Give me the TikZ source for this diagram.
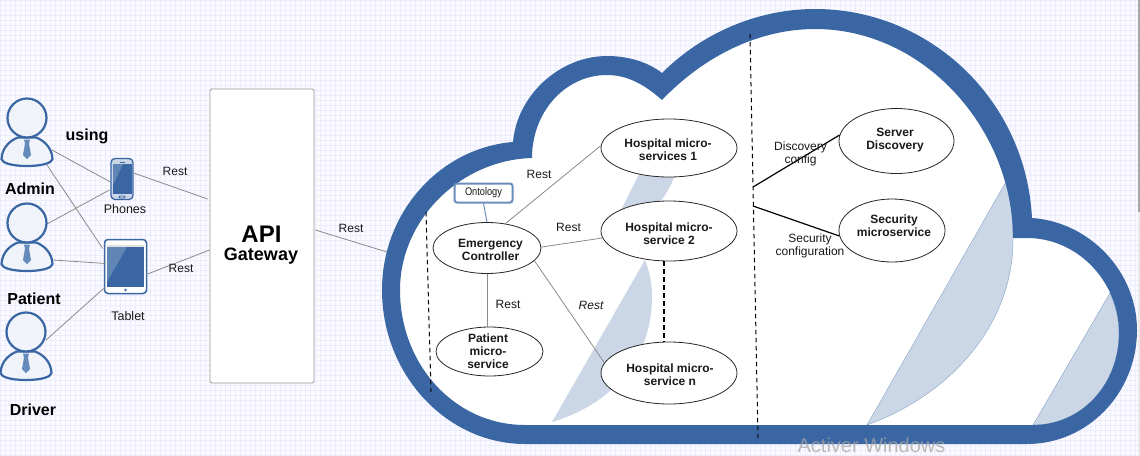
\documentclass[tikz,border=0pt]{standalone}
\usepackage{fontspec}
\usepackage{graphicx}
\setmainfont{Liberation Sans}
\usetikzlibrary{shapes.geometric,calc}
\definecolor{cloudblue}{HTML}{3A67A3}
\definecolor{segblue}{HTML}{CBD7E6}
\definecolor{linegray}{HTML}{8A8A8A}
\definecolor{skin}{HTML}{F0F4FA}
\definecolor{tie}{HTML}{648BBA}
\definecolor{sheen}{HTML}{5F86B5}
\definecolor{gridc}{HTML}{ECECFF}
\definecolor{bgc}{HTML}{FBFBFF}
\newcommand{\fsz}[1]{\fontsize{#1}{13}\selectfont}
\newcommand{\outerpath}{(1027,444) .. controls (1088,444) and (1137,393) .. (1137,330)
  .. controls (1137,272) and (1090,222) .. (1032,218)
  .. controls (1026,100) and (930,9) .. (815,9)
  .. controls (755,9) and (700,35) .. (662,73)
  .. controls (648,62) and (628,56) .. (607,56)
  .. controls (560,56) and (517,95) .. (513,142)
  .. controls (440,148) and (382,212) .. (382,290)
  .. controls (382,375) and (447,444) .. (525,444) -- cycle}
\newcommand{\innerpath}{(1033,425) .. controls (1082,425) and (1119,384) .. (1119,333)
  .. controls (1119,282) and (1078,238) .. (1027,238) -- (1013,238)
  .. controls (1013,130) and (925,29) .. (815,29)
  .. controls (760,29) and (705,55) .. (662,100)
  .. controls (645,85) and (628,75) .. (607,75)
  .. controls (565,75) and (532,112) .. (532,158)
  .. controls (460,160) and (400,220) .. (400,290)
  .. controls (400,365) and (455,425) .. (525,425) -- cycle}
\tikzset{
  x=1pt,y=-1pt,
  conn/.style={draw=linegray,line width=0.8pt},
  svc/.style={ellipse,draw=black!85,fill=white,line width=0.8pt,inner sep=0pt},
  svctext/.style={inner sep=0pt,align=center,font=\fsz{12}\bfseries,text=black!90},
  plain/.style={inner sep=0pt,align=center,font=\fsz{12},text=black!90},
  who/.style={inner sep=0pt,font=\fsz{16}\bfseries,text=black},
  dash line/.style={draw=black,line width=1pt,dash pattern=on 4.5pt off 3.5pt},
  link/.style={draw=black,line width=1.2pt},
  pers/.style={inner sep=0pt,minimum size=1pt},
  person/.pic={
    \path[draw=cloudblue,fill=skin,line width=2.2pt]
      (-25.5,41) .. controls (-25,29) and (-16,22) .. (-9,19.5)
      -- (9,19.5) .. controls (16,22) and (25,29) .. (25.5,41)
      .. controls (25,45) and (15,48) .. (0,48)
      .. controls (-15,48) and (-25,45) .. (-25.5,41) -- cycle;
    \path[draw=cloudblue,fill=skin,line width=2.2pt] (0,0) circle[radius=19.5];
    \path[fill=tie] (-3,21.5) -- (3,21.5) -- (2,25.5) -- (4,37) -- (0,41) -- (-4,37) -- (-2,25.5) -- cycle;
  }
}
\begin{document}
\begin{tikzpicture}
\useasboundingbox (0,0) rectangle (1140,455);
% sheet
\fill[bgc] (0,0) rectangle (1140,455);
\draw[gridc,line width=0.8pt,step=5pt] (0,0) grid (1140,455);
\fill[black!8] (1138,212) rectangle (1140,455);
\fill[black!35] (1138,0) rectangle (1140,212);

% named nodes of the left part
\node[pers] (admin) at (27,118) {};
\node[pers] (patient) at (27,223) {};
\node[pers] (driver) at (26,332) {};
\node[draw=cloudblue,fill=segblue,rounded corners=4pt,line width=1.3pt,minimum width=22pt,minimum height=41pt,inner sep=0pt] (phone) at (122,179) {};
\node[draw=cloudblue,fill=white,rounded corners=3.5pt,line width=1.5pt,minimum width=42pt,minimum height=54pt,inner sep=0pt] (tablet) at (125.5,266.5) {};
\node[draw=black!40,fill=white,rounded corners=1.5pt,line width=0.8pt,minimum width=104pt,minimum height=294pt,inner sep=0pt] (gw) at (262,236) {};

% connectors of the left part
\draw[conn] ($(admin)+(25,32)$) -- ($(phone.west)+(0,3)$);
\draw[conn] ($(admin)+(20,47)$) -- ($(tablet.west)+(-1,-18)$);
\draw[conn] ($(patient)+(20,1)$) -- ($(phone.west)+(-1,11)$);
\draw[conn] ($(patient)+(26,37)$) -- ($(tablet.west)+(2,-3)$);
\draw[conn] ($(driver)+(20,8)$) -- ($(tablet.west)+(1,21)$);
\draw[conn] ($(phone.east)+(0,-6)$) -- ($(gw.west)+(-2,-37)$);
\draw[conn] ($(tablet.east)+(-1,8)$) -- ($(gw.west)+(0,14)$);
\coordinate (cloudedge) at (387,252);
\draw[conn] ($(gw.east)+(1,-6)$) -- (cloudedge);

% people
\pic at (admin) {person};
\pic at (patient) {person};
\pic at (driver) {person};

% devices
\fill[cloudblue] (113,164) rectangle (132,194);
\fill[sheen] (113,164) -- (123,164) -- (113,185) -- cycle;
\fill[cloudblue] (119.5,161.5) rectangle (124.5,162.5);
\draw[cloudblue,line width=0.8pt,rounded corners=1pt] (119,196) rectangle (125,198);
\fill[black!12] (107,244.5) rectangle (144,247);
\fill[cloudblue] (107,247) rectangle (144,287);
\fill[sheen] (107,247) -- (127,247) -- (107,282) -- cycle;
\fill[cloudblue] (125.5,290) circle[radius=1.3];

% cloud
\fill[white] \outerpath;
\path[fill=segblue,draw=cloudblue!70,line width=0.3pt] (1007,180) -- (867,425)
   .. controls (950,395) and (1013,325) .. (1013,240)
   .. controls (1013,220) and (1011,200) .. (1007,180) -- cycle;
\path[fill=segblue,draw=cloudblue!70,line width=0.3pt] (1110,293) -- (1033,425)
   .. controls (1082,425) and (1119,384) .. (1119,333)
   .. controls (1119,318) and (1115,305) .. (1110,293) -- cycle;
\fill[segblue] (645,260) -- (552,422)
   .. controls (610,405) and (652,360) .. (652,297)
   .. controls (652,282) and (649,270) .. (645,260) -- cycle;
\fill[segblue] (640,172) -- (676,172) .. controls (670,190) and (662,200) .. (655,208) -- (620,212) -- cycle;
\fill[cloudblue,even odd rule] \outerpath \innerpath;

% service nodes
\node[svc,minimum width=136pt,minimum height=58pt] (h1) at (669,148) {};
\node[svc,minimum width=136pt,minimum height=60pt] (h2) at (669,231) {};
\node[svc,minimum width=136pt,minimum height=62pt] (hn) at (669,373) {};
\node[svc,minimum width=108pt,minimum height=51pt] (em) at (487,248) {};
\node[svc,minimum width=107pt,minimum height=49pt] (pm) at (489.5,351.5) {};
\node[svc,minimum width=115pt,minimum height=65pt] (sd) at (896.5,141) {};
\node[svc,minimum width=106pt,minimum height=63pt] (sec) at (892,230.5) {};
\node[svctext] (th1) at (668,149.5) {Hospital micro-\\services 1};
\node[svctext] (th2) at (669,233.5) {Hospital micro-\\service 2};
\node[svctext] (thn) at (670,374.5) {Hospital micro-\\service n};
\node[svctext] (tem) at (490.5,249.5) {Emergency\\Controller};
\node[svctext] (tpm) at (488,351.5) {Patient\\micro-\\service};
\node[svctext] (tsd) at (895,140) {Server\\Discovery};
\node[svctext] (tsec) at (894,225.5) {Security\\microservice};
\node[draw=cloudblue!75,fill=white,rounded corners=2.5pt,line width=2pt,minimum width=58pt,minimum height=19pt,inner sep=0pt,font=\fsz{11},text=black!90] (onto) at (483.5,193) {\scalebox{.84}[1]{Ontology}};

% dashed boundaries
\coordinate (dl1) at (426,212);
\coordinate (dl2) at (431,392);
\coordinate (dm1) at (750,34);
\coordinate (dm2) at (758,438);
\coordinate (jd) at (753,187);
\coordinate (js) at (753,206);
\draw[dash line] (dl1) -- (dl2);
\draw[dash line] (dm1) -- (dm2);
\draw[dash line,line width=1.1pt] (h2.south -| 664,0) -- (hn.north -| 664,0);

% connectors of the cloud
\draw[conn] (em.53) -- (h1.178);
\draw[conn] (em.1) -- (h2.186);
\draw[conn] (em.-15) -- (hn.171);
\draw[conn] (em.south) -- (pm.north -| em.south);
\draw[cloudblue!80,line width=0.9pt] (onto.south) -- (em.north);
\draw[link] (jd) -- (sd.174);
\draw[link] (js) -- (sec.186);

% labels
\node[who] (lusing) at (87,136) {using};
\node[who] (ladmin) at (30,188.5) {Admin};
\node[who] (lpatient) at (34,298.5) {Patient};
\node[who] (ldriver) at (33,409.5) {Driver};
\node[plain,font=\fsz{12.5}] (lphones) at (125,209.5) {Phones};
\node[plain,font=\fsz{12.5}] (ltablet) at (128,316.5) {Tablet};
\node[plain] (r1) at (175,171) {Rest};
\node[plain] (r2) at (181,268) {Rest};
\node[plain] (r3) at (351,228) {Rest};
\node[inner sep=0pt,font=\fsz{24}\bfseries] (lapi) at (261.5,234) {API};
\node[inner sep=0pt,font=\fsz{18}\bfseries] (lgw) at (261,256) {Gateway};
\node[plain] (r4) at (539,174.5) {Rest};
\node[plain] (r5) at (568.5,227) {Rest};
\node[plain] (r6) at (508,304.5) {Rest};
\node[plain,font=\fsz{12}\itshape] (r7) at (591,305.5) {Rest};
\node[plain] (l1) at (800.5,154) {Discovery\\config};
\node[plain] (l2) at (810,245.5) {Security\\configuration};
\node[inner sep=0pt,font=\fsz{20},text=gray!70,opacity=.75] (wm) at (871.5,445) {Activer Windows};
\end{tikzpicture}
\end{document}
